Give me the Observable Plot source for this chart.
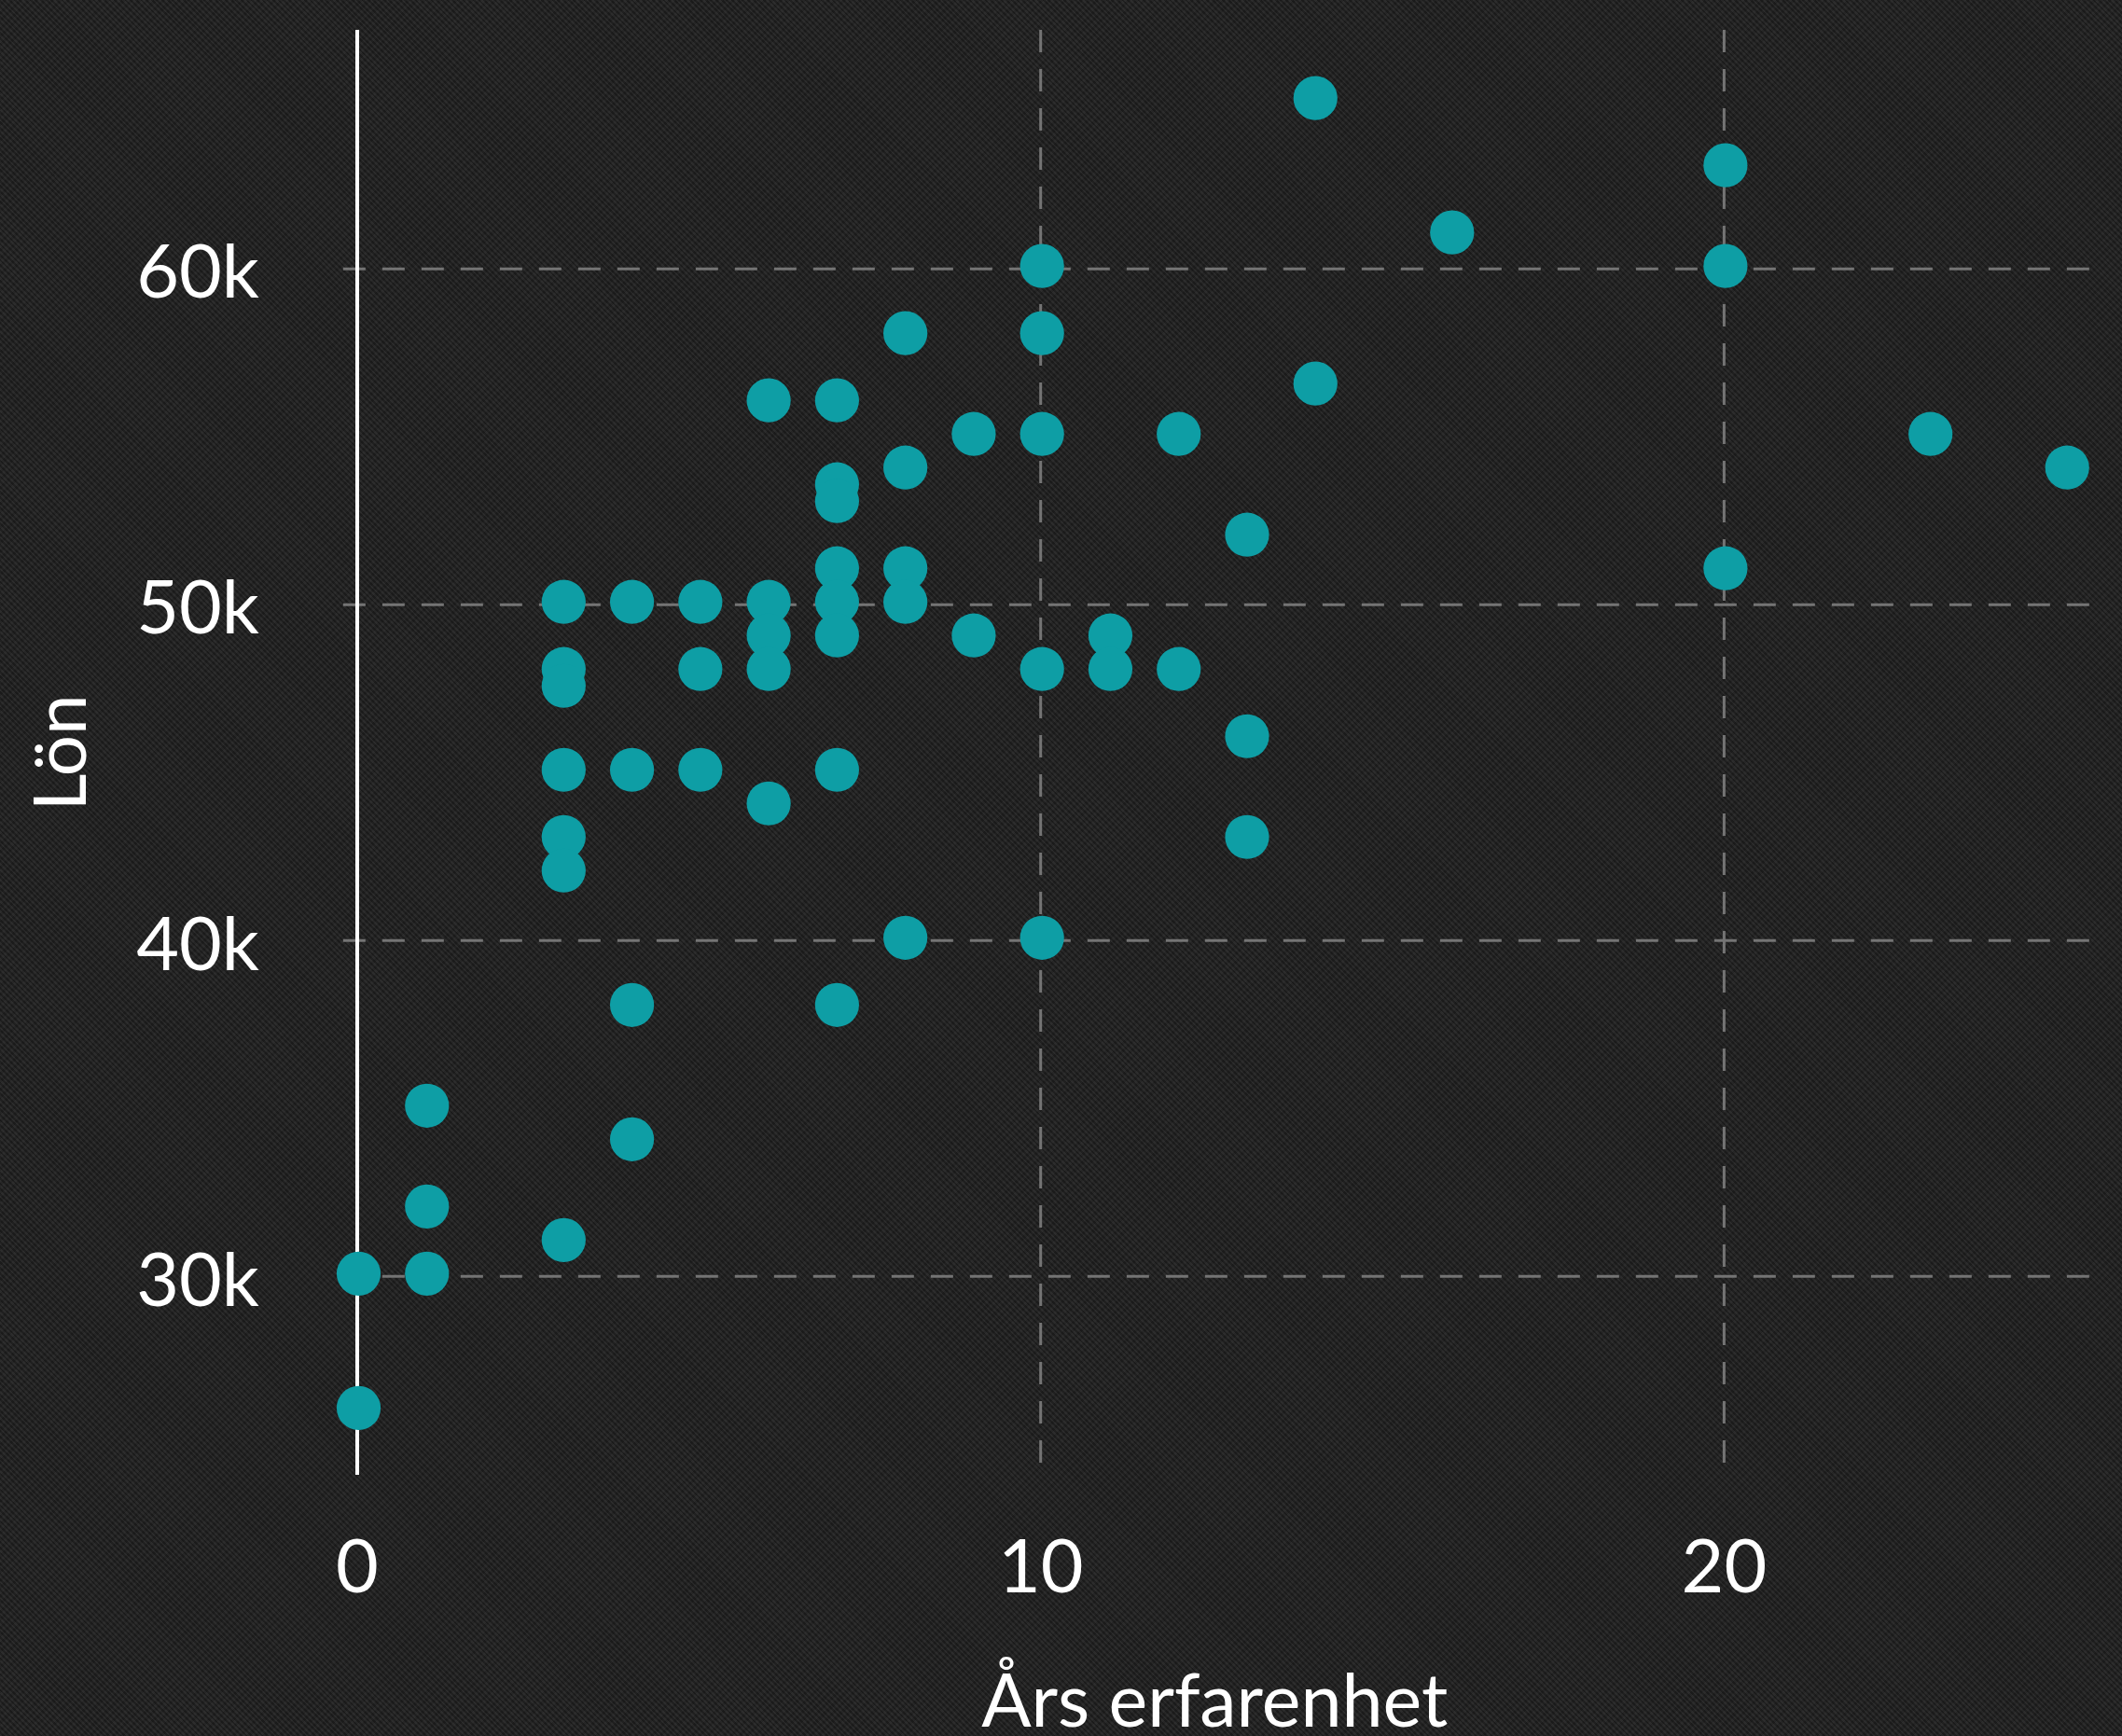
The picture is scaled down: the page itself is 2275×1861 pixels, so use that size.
<!DOCTYPE html>
<html>
<head>
<meta charset="utf-8">
<script src="https://cdn.jsdelivr.net/npm/d3@7"></script>
<script src="https://cdn.jsdelivr.net/npm/@observablehq/plot@0.6"></script>
<style>
  html, body { margin: 0; padding: 0; }
  body {
    width: 2275px; height: 1861px; overflow: hidden;
    background-color: #1f1f1f;
    background-image:
      repeating-linear-gradient(45deg, rgba(255,255,255,0.04) 0px, rgba(255,255,255,0.04) 2px, rgba(0,0,0,0.11) 2px, rgba(0,0,0,0.11) 4px),
      repeating-linear-gradient(-45deg, rgba(255,255,255,0.025) 0px, rgba(255,255,255,0.025) 3px, rgba(0,0,0,0.05) 3px, rgba(0,0,0,0.05) 6px);
    font-family: Lato, sans-serif;
  }
  #chart svg { display: block; }
</style>
</head>
<body>
<div id="chart"></div>
<script>
// Years of experience (x) and salary (y) for each person
const experience = [
  0, 0,
  1, 1, 1,
  3, 3, 3, 3, 3, 3, 3,
  4, 4, 4, 4,
  5, 5, 5,
  6, 6, 6, 6, 6,
  7, 7, 7, 7, 7, 7, 7, 7,
  8, 8, 8, 8, 8,
  9, 9,
  10, 10, 10, 10, 10,
  11, 11,
  12, 12,
  13, 13, 13,
  14, 14,
  16,
  20, 20, 20,
  23,
  25
];
const salary = [
  30000, 26000,
  35000, 32000, 30000,
  50000, 48000, 47500, 45000, 43000, 42000, 31000,
  50000, 45000, 38000, 34000,
  50000, 48000, 45000,
  56000, 50000, 49000, 48000, 44000,
  56000, 53500, 53000, 51000, 50000, 49000, 45000, 38000,
  58000, 54000, 51000, 50000, 40000,
  55000, 49000,
  60000, 58000, 55000, 48000, 40000,
  49000, 48000,
  55000, 48000,
  52000, 46000, 43000,
  65000, 56500,
  61000,
  63000, 60000, 51000,
  55000,
  54000
];

const xTicks = [0, 10, 20];
const xTickLabels = ["0", "10", "20"];
const yTicks = [30000, 40000, 50000, 60000];
const yTickLabels = ["30k", "40k", "50k", "60k"];
const xTitle = "Års erfarenhet";
const yTitle = "Lön";

const xDomain = [0, 25.42];
const yDomain = [24080, 67100];
const gridStartX = -0.2;

const dotColor = "#0e9ea5";
const gridColor = "#747474";

const data = experience.map((x, i) => ({x, y: salary[i]}));

const chart = Plot.plot({
  width: 2275,
  height: 1861,
  marginLeft: 382.5,
  marginRight: 30,
  marginTop: 32,
  marginBottom: 280,
  x: {domain: xDomain, axis: null},
  y: {domain: yDomain, axis: null},
  style: {background: "transparent", fontFamily: "Lato, sans-serif", color: "white", overflow: "visible"},
  marks: [
    Plot.ruleY(yTicks, {x1: gridStartX, x2: xDomain[1], stroke: gridColor, strokeWidth: 3, strokeDasharray: "24,18"}),
    Plot.ruleX(xTicks.filter(d => d !== 0), {stroke: gridColor, strokeWidth: 3, strokeDasharray: "24,18"}),
    Plot.ruleX([0], {stroke: "white", strokeWidth: 4}),
    Plot.dot(data, {x: "x", y: "y", r: 23.6, dx: 1.5, dy: -3, fill: dotColor, stroke: null}),
    Plot.text(yTicks, {y: d => d, text: (d, i) => yTickLabels[i], frameAnchor: "left", dx: -105, dy: 6, textAnchor: "end", fontSize: 79, fill: "white"}),
    Plot.text(xTicks, {x: d => d, text: (d, i) => xTickLabels[i], frameAnchor: "bottom", textAnchor: "middle", lineAnchor: "bottom", dy: 125, fontSize: 79, fill: "white"}),
    Plot.text([xTitle], {frameAnchor: "bottom", textAnchor: "middle", lineAnchor: "bottom", dx: -12, dy: 269, fontSize: 79, fill: "white"}),
    Plot.text([yTitle], {frameAnchor: "left", textAnchor: "middle", rotate: -90, lineAnchor: "bottom", dx: -291, fontSize: 78, fill: "white"})
  ]
});

document.getElementById("chart").appendChild(chart);
</script>
</body>
</html>
